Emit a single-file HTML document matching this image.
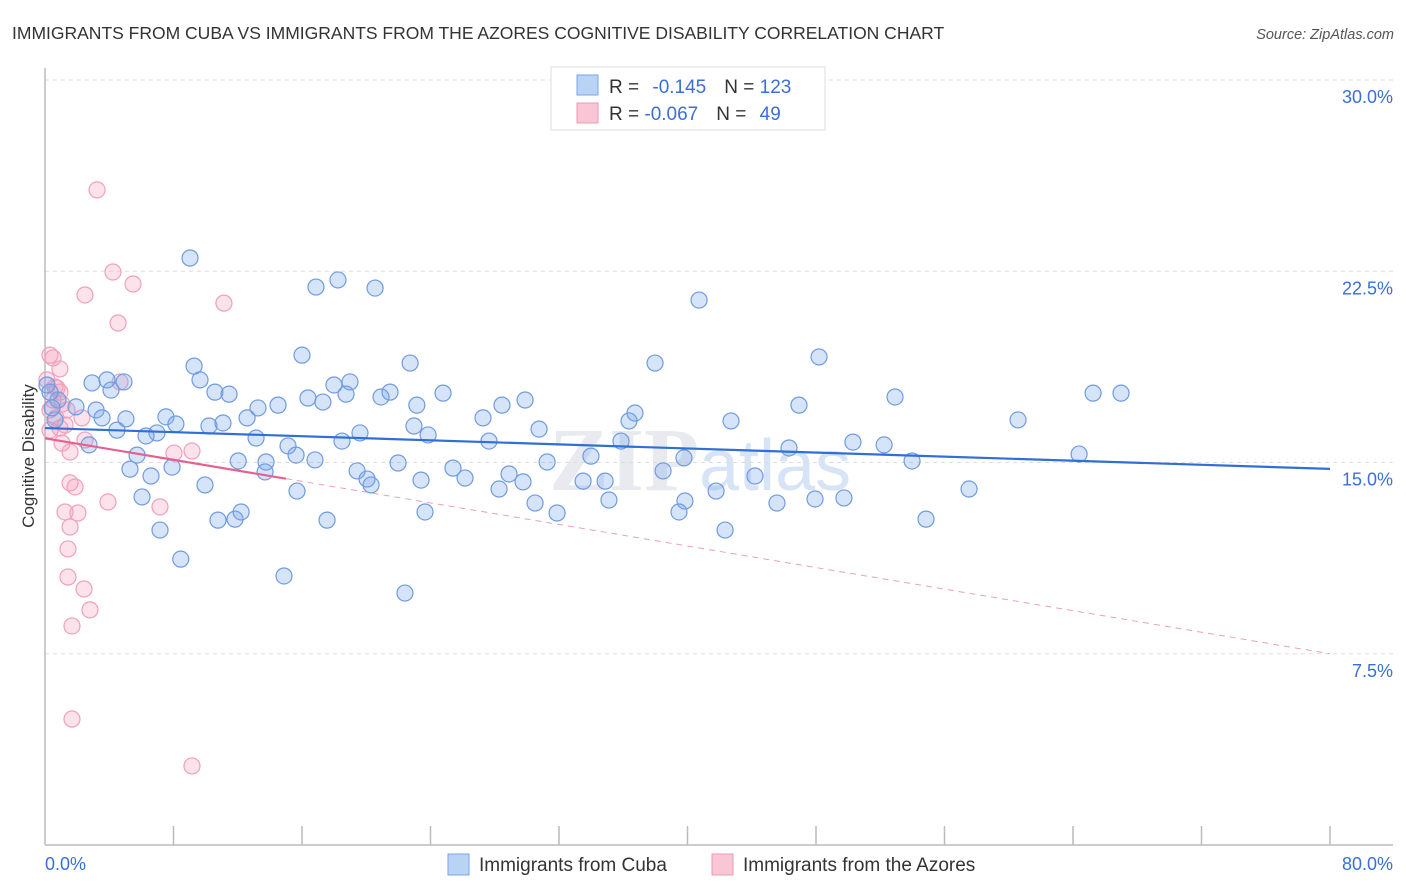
<!DOCTYPE html>
<html><head><meta charset="utf-8">
<style>
body{margin:0;background:#fff;font-family:"Liberation Sans",sans-serif;}
#wrap{position:relative;width:1406px;height:892px;overflow:hidden;}
</style></head>
<body>
<div id="wrap">
<svg id="chart" width="1406" height="892" xmlns="http://www.w3.org/2000/svg">
<text x="12" y="39" font-size="17.5" fill="#333">IMMIGRANTS FROM CUBA VS IMMIGRANTS FROM THE AZORES COGNITIVE DISABILITY CORRELATION CHART</text>
<text x="1394" y="39" font-size="14.5" fill="#555" font-style="italic" text-anchor="end">Source: ZipAtlas.com</text>
<text x="700" y="490" font-size="90" fill="#e8eaf0" text-anchor="middle" font-family="Liberation Serif,serif" font-weight="bold">ZIP<tspan fill="#d6e4f5" font-family="Liberation Sans,sans-serif" font-weight="normal" font-size="72">atlas</tspan></text>
<text transform="translate(34,456) rotate(-90)" font-size="17" fill="#333" text-anchor="middle">Cognitive Disability</text>
<g id="grid"></g>
<g id="axes"></g>
<g id="pts"></g>
<g id="trend"></g>
<g>
<rect x="551" y="67" width="274" height="63" fill="#fff" stroke="#ddd"/>
<rect x="577" y="75" width="21" height="20" fill="#b9d3f5" stroke="#7aa5e6"/>
<rect x="577" y="103" width="21" height="20" fill="#f8c6d4" stroke="#ee9ab4"/>
<text x="609" y="93" font-size="19" fill="#333">R = <tspan fill="#3a6fd8" dx="8">-0.145</tspan><tspan fill="#333" dx="18">N = </tspan><tspan fill="#3a6fd8">123</tspan></text>
<text x="609" y="120" font-size="19" fill="#333">R = <tspan fill="#3a6fd8">-0.067</tspan><tspan fill="#333" dx="18">N = </tspan><tspan fill="#3a6fd8" dx="8">49</tspan></text>
</g>
<g>
<rect x="448" y="854" width="21" height="21" fill="#b9d3f5" stroke="#7aa5e6"/>
<text x="479" y="871" font-size="19" fill="#333">Immigrants from Cuba</text>
<rect x="712" y="854" width="21" height="21" fill="#f8c6d4" stroke="#ee9ab4"/>
<text x="743" y="871" font-size="19" fill="#333">Immigrants from the Azores</text>
</g>
</svg>
</div>
<script>
const yTicks=[7.5,15,22.5,30];
const yTickLabels=["7.5%","15.0%","22.5%","30.0%"];
const xTickLabels=["0.0%","80.0%"];
const cubaX=[9.03,16.87,18.24,20.55,40.72,16.0,9.28,22.73,37.98,48.19,2.93,3.86,4.92,4.11,9.65,10.58,11.46,17.99,18.99,18.74,20.92,21.48,24.78,16.37,17.3,23.15,28.45,29.89,36.73,36.36,42.71,46.94,52.92,65.25,66.99,60.58,1.93,0.81,0.31,3.18,3.55,5.04,4.48,2.74,7.53,8.15,6.97,6.29,10.21,11.08,12.58,13.26,14.51,13.14,15.13,15.63,16.81,18.49,19.61,22.97,23.85,27.27,27.64,30.76,33.99,35.86,31.26,28.89,26.15,25.40,21.98,19.43,20.05,20.30,23.41,28.27,29.76,33.50,34.87,38.48,39.78,44.20,41.78,39.84,39.47,35.11,30.51,31.88,42.34,45.57,47.94,49.74,46.32,50.30,52.24,53.98,57.53,54.85,64.38,5.29,5.73,6.60,7.91,6.04,9.96,7.16,8.45,10.77,11.83,12.21,12.03,13.76,13.70,15.69,17.56,14.88,22.41,23.66,0.62,0.44,0.12];
const cubaY=[23.02,21.88,22.16,21.84,21.37,19.21,18.78,18.90,18.90,19.14,18.12,18.24,18.16,17.84,18.24,17.76,17.68,18.04,18.16,17.68,17.57,17.76,17.72,17.53,17.37,17.25,17.25,17.45,16.94,16.63,16.63,17.25,17.57,17.72,17.72,16.67,17.18,17.45,17.76,17.06,16.75,16.71,16.27,15.69,16.79,16.51,16.16,16.04,16.43,16.55,16.75,17.14,17.25,15.96,15.65,15.29,15.10,15.84,16.16,16.43,16.08,16.75,15.84,16.31,15.25,15.84,15.02,14.55,14.39,14.78,14.98,14.67,14.35,14.12,14.31,13.96,14.24,14.27,14.27,14.67,15.18,14.47,13.88,13.49,13.06,13.53,13.41,13.02,12.35,13.41,13.57,13.61,15.57,15.80,15.69,15.06,13.96,12.78,15.33,14.74,15.29,14.47,14.82,13.65,14.12,12.35,11.21,12.74,12.78,13.06,15.06,15.02,14.63,13.88,12.74,10.55,9.88,13.06,16.67,17.14,18.04];
const azX=[3.24,4.23,2.49,5.48,11.14,4.55,0.31,0.50,0.93,4.67,0.62,0.93,0.50,1.06,0.31,0.68,1.37,2.30,0.31,0.93,1.25,1.06,1.56,2.49,8.03,9.15,1.56,1.87,3.92,7.16,1.25,2.05,1.56,1.43,1.43,2.43,2.80,1.68,1.68,9.15,0.12,0.75];
const azY=[25.69,22.47,21.57,22.0,21.25,20.47,19.21,19.10,18.67,18.16,17.96,17.76,17.45,17.29,17.06,16.75,17.06,16.75,16.27,16.35,16.47,15.76,15.41,15.88,15.37,15.45,14.20,14.04,13.45,13.26,13.06,13.02,12.47,11.61,10.51,10.04,9.22,8.59,4.94,3.10,18.24,17.92];
const trendCuba=[16.35,14.75];
const trendAz=[15.95,7.5];
const azSolidEnd=15;

const NS="http://www.w3.org/2000/svg";
const X0=45,X1=1330,YTOP=80,YBOT=845;
function sx(v){return X0+(v/80)*(X1-X0);}
function sy(v){return YBOT-(v/30)*(YBOT-YTOP);}
function mk(tag,attrs,parent){const e=document.createElementNS(NS,tag);for(const k in attrs)e.setAttribute(k,attrs[k]);parent.appendChild(e);return e;}
const grid=document.getElementById('grid'),axes=document.getElementById('axes'),pts=document.getElementById('pts'),trend=document.getElementById('trend');
yTicks.forEach((t,i)=>{
  const l=mk('line',{x1:X0,x2:1393,y1:sy(t),y2:sy(t),stroke:'#ddd','stroke-dasharray':'4,4'},grid);
  
  
  const tx=mk('text',{x:1393,y:sy(t)+23,'font-size':18,fill:'#3a6fd8','text-anchor':'end'},grid);
  tx.textContent=yTickLabels[i];
  
  
});
const ya=mk('line',{x1:X0,x2:X0,y1:68,y2:YBOT,stroke:'#bbb','stroke-width':1.5},axes);


const xa=mk('line',{x1:X0,x2:1393,y1:YBOT,y2:YBOT,stroke:'#bbb','stroke-width':1.5},axes);


for(let i=1;i<=10;i++){
  const t=mk('line',{x1:sx(i*8),x2:sx(i*8),y1:826,y2:YBOT,stroke:'#bbb','stroke-width':1.5},axes);
  
  
}
const xl0=mk('text',{x:X0,y:870,'font-size':18,fill:'#3a6fd8'},axes);xl0.textContent=xTickLabels[0];


const xl1=mk('text',{x:1393,y:870,'font-size':18,fill:'#3a6fd8','text-anchor':'end'},axes);xl1.textContent=xTickLabels[1];


azX.forEach((x,i)=>{
  const c=mk('circle',{cx:sx(x),cy:sy(azY[i]),r:8,fill:'rgba(244,160,188,0.3)',stroke:'#f0a0ba','stroke-width':1.2},pts);
  
  
});
cubaX.forEach((x,i)=>{
  const c=mk('circle',{cx:sx(x),cy:sy(cubaY[i]),r:8,fill:'rgba(120,165,235,0.3)',stroke:'#6f9be0','stroke-width':1.2},pts);
  
  
});
const tc=mk('line',{x1:sx(0),y1:sy(trendCuba[0]),x2:sx(80),y2:sy(trendCuba[1]),stroke:'#2f6fd6','stroke-width':2.2},trend);


const azAt=x=>trendAz[0]+(trendAz[1]-trendAz[0])*x/80;
const ta=mk('line',{x1:sx(0),y1:sy(trendAz[0]),x2:sx(azSolidEnd),y2:sy(azAt(azSolidEnd)),stroke:'#e8608e','stroke-width':2.2},trend);


const td=mk('line',{x1:sx(azSolidEnd),y1:sy(azAt(azSolidEnd)),x2:sx(80),y2:sy(trendAz[1]),stroke:'#eaa0b8','stroke-width':1,'stroke-dasharray':'6,5'},trend);


</script>
</body></html>
